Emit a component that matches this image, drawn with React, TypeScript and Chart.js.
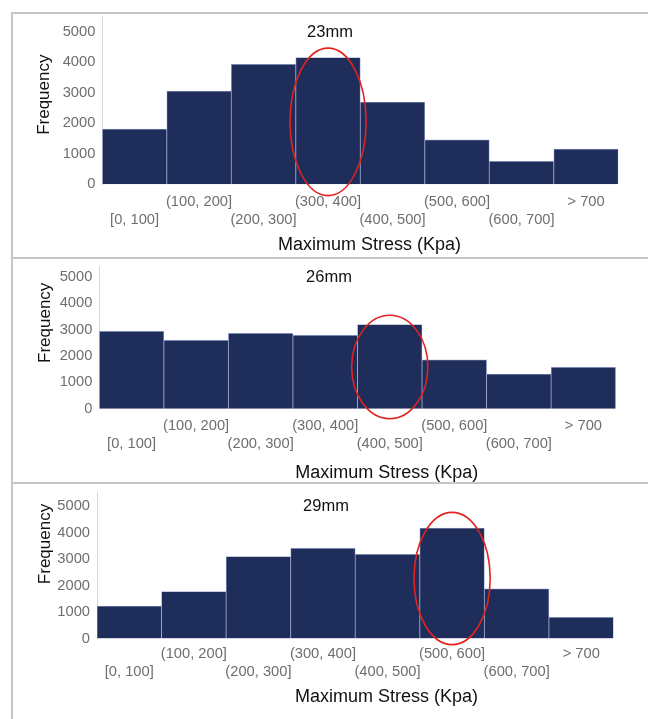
import React, { useEffect, useRef } from "react";
import { Chart, registerables } from "chart.js";

Chart.register(...registerables);

// ---------- data ----------
const stressBins = ["[0, 100]", "(100, 200]", "(200, 300]", "(300, 400]", "(400, 500]", "(500, 600]", "(600, 700]", "> 700"];
const freq23mm = [1810, 3050, 3930, 4150, 2690, 1460, 750, 1150];
const freq26mm = [2940, 2600, 2860, 2790, 3190, 1860, 1310, 1570];
const freq29mm = [1220, 1770, 3090, 3400, 3180, 4170, 1870, 800];
const panelTitles = ["23mm", "26mm", "29mm"];
const yTickValues = [0, 1000, 2000, 3000, 4000, 5000];
// highlighted bin of each panel and the vertical span of its ellipse (in frequency units)
const highlightBins = [3, 4, 5];
const highlightLow = [-370, -380, -230];
const highlightHigh = [4460, 3550, 4760];
const xAxisTitle = "Maximum Stress (Kpa)";
const yAxisTitle = "Frequency";

// ---------- layout / style ----------
const FONT = '"Liberation Sans", Arial, Helvetica, sans-serif';
const BAR_FILL = "#1f2d5b";
const BAR_EDGE = "#9aa8d0";
const TICK_COLOR = "#6e6e6e";

type Layout = {
  top: number;
  height: number;
  padTop: number;
  padRight: number;
  yWidth: number;
  xHeight: number;
  yMax: number;
  tickPad: number;
  title: [number, number];
  yTitle: [number, number];
  xTitle: [number, number];
};

const layouts: Layout[] = [
  { top: 0, height: 257, padTop: 16.4, padRight: 29.7, yWidth: 102.3, xHeight: 72.7, yMax: 5500, tickPad: 8.5, title: [330, 32.3], yTitle: [44.7, 94.7], xTitle: [369.5, 245] },
  { top: 259, height: 223, padTop: 7.5, padRight: 32.3, yWidth: 99.3, xHeight: 73.3, yMax: 5400, tickPad: 8.6, title: [329, 18], yTitle: [45, 63.8], xTitle: [386.8, 214.3] },
  { top: 484, height: 235, padTop: 8.75, padRight: 34.5, yWidth: 97, xHeight: 80.5, yMax: 5500, tickPad: 6.5, title: [326, 22], yTitle: [45, 60], xTitle: [386.5, 213] },
];

const seriesList = [freq23mm, freq26mm, freq29mm];

function Panel({ idx }: { idx: number }) {
  const ref = useRef<HTMLCanvasElement | null>(null);
  const L = layouts[idx];

  useEffect(() => {
    if (!ref.current) return;
    const values = seriesList[idx];
    const title = panelTitles[idx];
    const hi = highlightBins[idx];
    const lo = highlightLow[idx];
    const up = highlightHigh[idx];

    const textPlugin = {
      id: "panelText" + idx,
      afterDraw(chart: any) {
        const ctx = chart.ctx as CanvasRenderingContext2D;
        ctx.save();
        ctx.textAlign = "center";
        ctx.textBaseline = "middle";
        ctx.fillStyle = "#111111";
        ctx.font = `16.5px ${FONT}`;
        ctx.fillText(title, L.title[0], L.title[1]);
        ctx.font = `18px ${FONT}`;
        ctx.fillText(xAxisTitle, L.xTitle[0], L.xTitle[1]);
        ctx.translate(L.yTitle[0], L.yTitle[1]);
        ctx.rotate(-Math.PI / 2);
        ctx.font = `17px ${FONT}`;
        ctx.fillText(yAxisTitle, 0, 0);
        ctx.restore();
      },
    };

    const ellipsePlugin = {
      id: "highlight" + idx,
      afterDatasetsDraw(chart: any) {
        const ctx = chart.ctx as CanvasRenderingContext2D;
        const xs = chart.scales.x;
        const ys = chart.scales.y;
        const cx = xs.getPixelForValue(hi);
        const bw = xs.getPixelForValue(1) - xs.getPixelForValue(0);
        const yTop = ys.getPixelForValue(up);
        const yBot = ys.getPixelForValue(lo);
        ctx.save();
        ctx.beginPath();
        ctx.ellipse(cx, (yTop + yBot) / 2, bw * 0.59, (yBot - yTop) / 2, 0, 0, Math.PI * 2);
        ctx.strokeStyle = "#e1231f";
        ctx.lineWidth = 1.6;
        ctx.stroke();
        ctx.restore();
      },
    };

    const chart = new Chart(ref.current, {
      type: "bar",
      data: {
        labels: stressBins.map((l, i) => (i % 2 === 0 ? ["", l] : [l, ""])),
        datasets: [
          {
            data: values,
            backgroundColor: BAR_FILL,
            borderColor: BAR_EDGE,
            borderWidth: 0.75,
            barPercentage: 1,
            categoryPercentage: 1,
          },
        ],
      },
      options: {
        animation: false,
        responsive: false,
        layout: { padding: { top: L.padTop, right: L.padRight, left: 0, bottom: 0 } },
        plugins: {
          legend: { display: false },
          tooltip: { enabled: false },
          title: { display: false },
        },
        scales: {
          x: {
            offset: true,
            grid: { display: false, drawTicks: false },
            border: { display: false },
            afterFit: (s: any) => {
              s.height = L.xHeight;
              s.paddingLeft = 0;
              s.paddingRight = 0;
            },
            ticks: {
              autoSkip: false,
              maxRotation: 0,
              minRotation: 0,
              padding: L.tickPad,
              color: TICK_COLOR,
              font: { family: FONT, size: 14.7, lineHeight: 18 / 14.7 },
            },
          },
          y: {
            min: 0,
            max: L.yMax,
            afterBuildTicks: (s: any) => {
              s.ticks = yTickValues.map((v) => ({ value: v }));
            },
            afterFit: (s: any) => {
              s.width = L.yWidth;
              s.paddingTop = 0;
              s.paddingBottom = 0;
            },
            grid: { display: false, drawTicks: false },
            border: { display: true, color: "#d8d8d8", width: 1 },
            ticks: {
              padding: 7,
              color: TICK_COLOR,
              font: { family: FONT, size: 14.7 },
              callback: (v: any) => String(v),
            },
          },
        },
      },
      plugins: [ellipsePlugin, textPlugin],
    } as any);

    return () => chart.destroy();
  }, [idx]);

  return (
    <canvas
      ref={ref}
      width={648}
      height={L.height}
      style={{ position: "absolute", left: 0, top: L.top, width: 648, height: L.height, display: "block" }}
    />
  );
}

const lineColor = "#c6c6c6";

export default function App() {
  return (
    <div style={{ position: "absolute", left: 0, top: 0, width: 648, height: 719, background: "#ffffff", overflow: "hidden" }}>
      <Panel idx={0} />
      <Panel idx={1} />
      <Panel idx={2} />
      <div style={{ position: "absolute", left: 11, top: 12, width: 637, height: 2, background: lineColor }} />
      <div style={{ position: "absolute", left: 11, top: 12, width: 2, height: 707, background: lineColor }} />
      <div style={{ position: "absolute", left: 11, top: 257, width: 637, height: 2, background: lineColor }} />
      <div style={{ position: "absolute", left: 11, top: 482, width: 637, height: 2, background: lineColor }} />
    </div>
  );
}
